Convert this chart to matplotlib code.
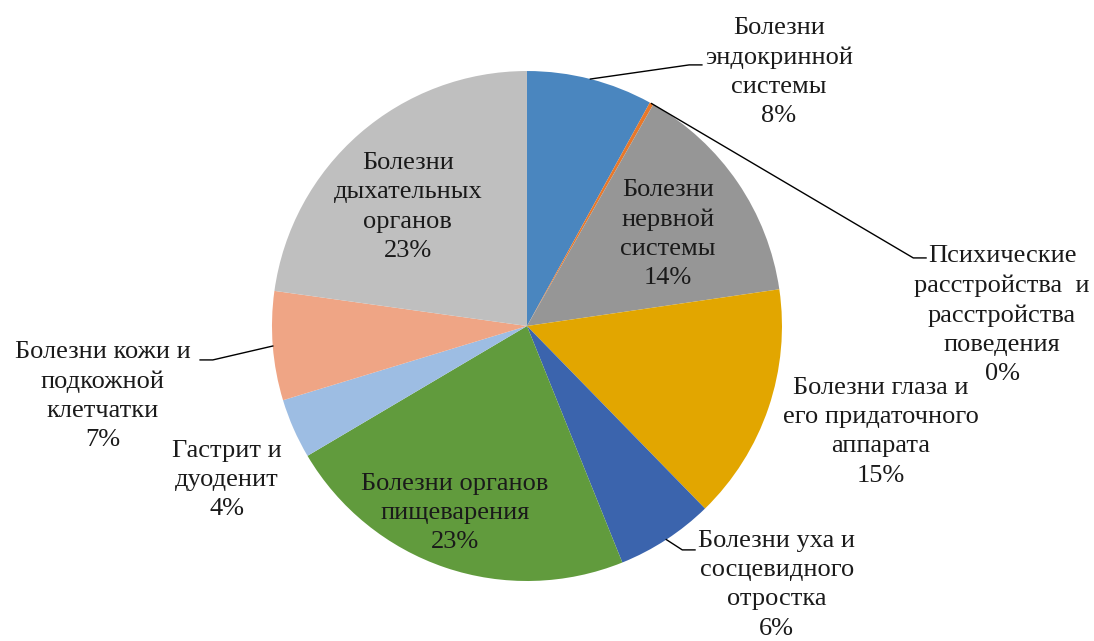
import numpy as np
import matplotlib
matplotlib.use("Agg")
import matplotlib.pyplot as plt

plt.rcParams['font.family'] = ['Liberation Serif', 'DejaVu Serif']

# slice data, clockwise from 12 o'clock
names = [
    "Болезни\nэндокринной\nсистемы",
    "Психические\nрасстройства  и\nрасстройства\nповедения",
    "Болезни\nнервной\nсистемы",
    "Болезни глаза и\nего придаточного\nаппарата",
    "Болезни уха и\nсосцевидного\nотростка",
    "Болезни органов\nпищеварения",
    "Гастрит и\nдуоденит",
    "Болезни кожи и\nподкожной\nклетчатки",
    "Болезни\nдыхательных\nорганов",
]
values = [8.0, 0.25, 14.45, 15.0, 6.2, 22.6, 3.8, 6.9, 22.8]
colors = ['#4A86BF', '#E8782A', '#969696', '#E2A600', '#3B64AD',
          '#619B3D', '#9DBDE3', '#EFA585', '#BFBFBF']

# label centre positions (in pie radii) and leader end points (None = no leader)
label_pos = [(0.988, 0.996), (1.863, 0.043), (0.553, 0.361), (1.388, -0.415),
             (0.98, -1.015), (-0.282, -0.733), (-1.176, -0.604),
             (-1.663, -0.275), (-0.467, 0.467)]
leader_end = [(0.686, 1.024), (1.565, 0.267), None, None,
              (0.659, -0.878), None, None, (-1.282, -0.133), None]

fig = plt.figure(figsize=(10.94, 6.41), dpi=100)
ax = fig.add_axes([0.2486, 0.0936, 0.4662, 0.7956])

wedges, _ = ax.pie(values, colors=colors, startangle=90, counterclock=False,
                   radius=1.0, wedgeprops=dict(linewidth=0))

for i, w in enumerate(wedges):
    txt = names[i] + "\n" + "{:.0f}%".format(values[i])
    lx, ly = label_pos[i]
    ax.text(lx, ly, txt, ha='center', va='center', fontsize=19,
            linespacing=1.42, color='#1a1a1a', clip_on=False)
    if leader_end[i] is not None:
        mid = np.deg2rad((w.theta1 + w.theta2) / 2.0)
        x0, y0 = np.cos(mid), np.sin(mid)
        ex, ey = leader_end[i]
        side = 1 if ex > 0 else -1
        elbow = ex - side * 0.05
        ax.plot([x0, elbow, ex], [y0, ey, ey], color='black', lw=1.0,
                clip_on=False)

ax.set_xlim(-1, 1)
ax.set_ylim(-1, 1)
ax.set_aspect('equal')
ax.axis('off')

fig.savefig('out.png', dpi=100)
